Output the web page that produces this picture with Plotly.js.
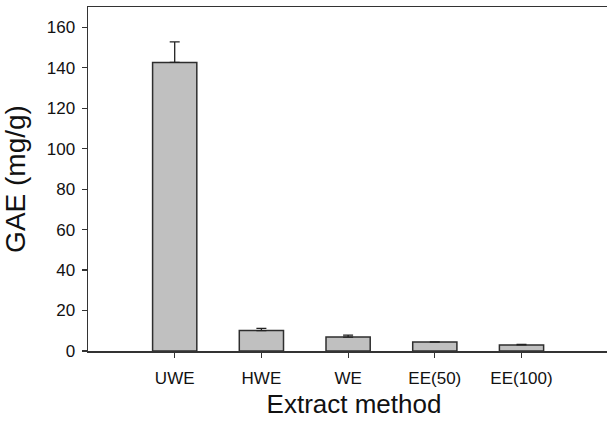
<!DOCTYPE html>
<html>
<head>
<meta charset="utf-8">
<script src="https://cdn.plot.ly/plotly-3.0.1.min.js"></script>
<style>
html, body { margin: 0; padding: 0; overflow: hidden; background: #fff; }
#chart { width: 620px; height: 422px; }
</style>
</head>
<body>
<div id="chart"></div>
<script>
const categories = ["UWE", "HWE", "WE", "EE(50)", "EE(100)"];
const gaeValues = [142.6, 10.1, 6.9, 4.4, 3.0];
const gaeErrors = [10.2, 1.1, 0.9, 0.1, 0.3];
const yTickValues = [0, 20, 40, 60, 80, 100, 120, 140, 160];

const trace = {
  type: "bar",
  x: categories,
  y: gaeValues,
  width: 0.51,
  marker: { color: "#c0c0c0", line: { color: "#2e2e2e", width: 1.5 } },
  error_y: { type: "data", array: gaeErrors, symmetric: false, arrayminus: [0,0,0,0,0],
             visible: true, color: "#222", thickness: 1.3, width: 5 },
  hoverinfo: "none"
};

const layout = {
  width: 620, height: 422,
  margin: { l: 88, r: 0, t: 7, b: 71 },
  paper_bgcolor: "#fff", plot_bgcolor: "#fff",
  font: { family: "Liberation Sans, Arial, sans-serif", color: "#111" },
  showlegend: false,
  xaxis: {
    type: "category",
    range: [-1.0, 5.136],
    showline: true, linecolor: "#333", linewidth: 1.5, mirror: true,
    ticks: "outside", ticklen: 5, tickwidth: 1.2, tickcolor: "#333",
    ticklabelstandoff: 6,
    showgrid: false, zeroline: false,
    tickfont: { size: 17, family: "Liberation Sans, Arial, sans-serif", color: "#111" },
    title: { text: "Extract method", font: { size: 26, family: "Liberation Sans, Arial, sans-serif", color: "#111" }, standoff: 8 }
  },
  yaxis: {
    range: [0, 170],
    tickvals: yTickValues,
    showline: true, linecolor: "#333", linewidth: 1.5,
    ticks: "outside", ticklen: 5, tickwidth: 1.2, tickcolor: "#333",
    ticklabelstandoff: 3,
    showgrid: false, zeroline: false,
    tickfont: { size: 17, family: "Liberation Sans, Arial, sans-serif", color: "#111" },
    title: { text: "GAE (mg/g)", font: { size: 28, family: "Liberation Sans, Arial, sans-serif", color: "#111" }, standoff: 14 }
  }
};

Plotly.newPlot("chart", [trace], layout, { displayModeBar: false, staticPlot: true });
</script>
</body>
</html>
